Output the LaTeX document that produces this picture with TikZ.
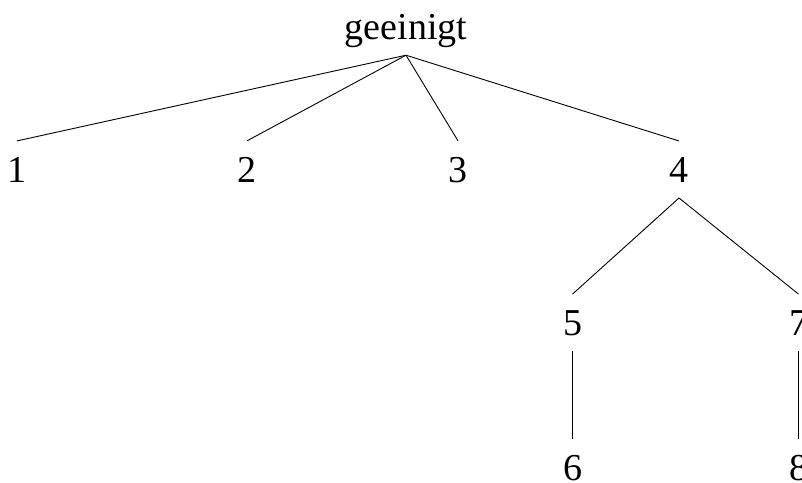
\documentclass[tikz,border=0pt]{standalone}
\usepackage{fontspec}
\setmainfont{Liberation Serif}
\begin{document}
\begin{tikzpicture}[x=1pt,y=-1pt,
  treelabel/.style={inner sep=0pt,anchor=base,font=\fontsize{38}{40}\selectfont},
  leaf/.style={treelabel,outer sep=16pt},
  rootlabel/.style={treelabel,outer sep=8pt},
  branch/.style={line width=0.9pt,black}]
  \useasboundingbox (0,0) rectangle (802,482);
  % root and first level
  \node[rootlabel] (root) at (406,39) {geeinigt};
  \node[leaf] (n1) at (17,182) {1};
  \node[leaf] (n2) at (247,182) {2};
  \node[leaf] (n3) at (458,182) {3};
  \node[leaf] (n4) at (679,182) {4};
  % second level
  \node[leaf] (n5) at (572.5,335) {5};
  \node[leaf] (n7) at (798.5,335) {7};
  % third level
  \node[leaf] (n6) at (572.5,480) {6};
  \node[leaf] (n8) at (798.5,480) {8};
  % branches
  \draw[branch] (root.south) -- (n1.north);
  \draw[branch] (root.south) -- (n2.north);
  \draw[branch] (root.south) -- (n3.north);
  \draw[branch] (root.south) -- (n4.north);
  \draw[branch] (n4.south) -- (n5.north);
  \draw[branch] (n4.south) -- (n7.north);
  \draw[branch] (n5.south) -- (n6.north);
  \draw[branch] (n7.south) -- (n8.north);
\end{tikzpicture}
\end{document}
